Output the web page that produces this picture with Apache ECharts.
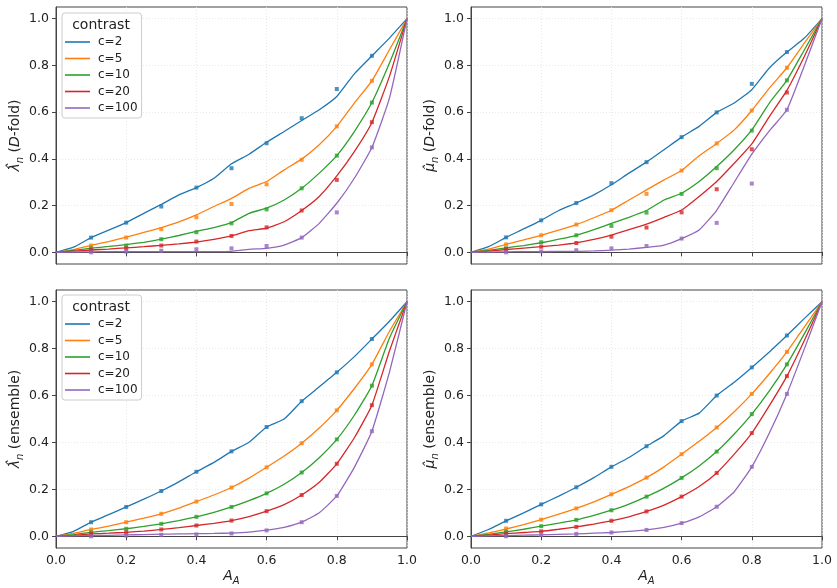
<!DOCTYPE html>
<html>
<head>
<meta charset="utf-8">
<script src="https://cdn.jsdelivr.net/npm/echarts@6/dist/echarts.min.js"></script>
<style>
  html, body { margin: 0; padding: 0; background: #fff; }
  #chart { width: 837px; height: 588px; }
</style>
</head>
<body>
<div id="chart"></div>
<script>
// x positions of the curves (dense) and of the square markers
const xLine = [0, 0.05, 0.1, 0.15, 0.2, 0.25, 0.3, 0.35, 0.4, 0.45, 0.5, 0.55, 0.6, 0.65, 0.7, 0.75, 0.8, 0.85, 0.9, 0.95, 1]
const xPts = [0.1, 0.2, 0.3, 0.4, 0.5, 0.6, 0.7, 0.8, 0.9]
const yTicks = [0, 0.2, 0.4, 0.6, 0.8, 1.0]
const names = ['c=2', 'c=5', 'c=10', 'c=20', 'c=100']
const colors = ['#1f77b4', '#ff7f0e', '#2ca02c', '#d62728', '#9467bd']

// lambda hat, D-fold
const lamDfoldLine = [
  [0, 0.022, 0.063, 0.095, 0.127, 0.167, 0.205, 0.246, 0.277, 0.317, 0.379, 0.42, 0.471, 0.517, 0.564, 0.61, 0.667, 0.764, 0.841, 0.917, 1],
  [0, 0.012, 0.03, 0.046, 0.065, 0.085, 0.106, 0.13, 0.16, 0.196, 0.231, 0.274, 0.303, 0.353, 0.399, 0.46, 0.539, 0.639, 0.734, 0.867, 1],
  [0, 0.008, 0.018, 0.025, 0.033, 0.043, 0.056, 0.072, 0.09, 0.106, 0.127, 0.167, 0.189, 0.224, 0.274, 0.339, 0.414, 0.517, 0.641, 0.81, 1],
  [0, 0.005, 0.01, 0.014, 0.019, 0.024, 0.03, 0.036, 0.044, 0.055, 0.07, 0.093, 0.103, 0.131, 0.179, 0.239, 0.327, 0.431, 0.556, 0.753, 1],
  [0, 0.001, 0.002, 0.003, 0.003, 0.003, 0.003, 0.003, 0.003, 0.003, 0.004, 0.013, 0.017, 0.031, 0.063, 0.124, 0.21, 0.317, 0.449, 0.66, 1]
]
const lamDfoldPts = [
  [0.063, 0.127, 0.196, 0.277, 0.36, 0.467, 0.574, 0.699, 0.841],
  [0.029, 0.063, 0.099, 0.15, 0.207, 0.291, 0.396, 0.539, 0.734],
  [0.017, 0.029, 0.056, 0.086, 0.124, 0.184, 0.274, 0.414, 0.641],
  [0.01, 0.017, 0.029, 0.046, 0.07, 0.107, 0.179, 0.31, 0.557],
  [0.0, 0.003, 0.007, 0.013, 0.017, 0.027, 0.063, 0.171, 0.449]
]

// mu hat, D-fold
const muDfoldLine = [
  [0, 0.024, 0.064, 0.1, 0.137, 0.179, 0.211, 0.246, 0.289, 0.339, 0.386, 0.439, 0.493, 0.539, 0.599, 0.639, 0.696, 0.789, 0.857, 0.917, 1],
  [0, 0.014, 0.034, 0.053, 0.073, 0.095, 0.119, 0.148, 0.18, 0.224, 0.267, 0.31, 0.35, 0.413, 0.466, 0.524, 0.607, 0.703, 0.79, 0.896, 1],
  [0, 0.008, 0.019, 0.029, 0.041, 0.056, 0.073, 0.097, 0.124, 0.15, 0.179, 0.224, 0.253, 0.303, 0.367, 0.439, 0.524, 0.639, 0.736, 0.867, 1],
  [0, 0.005, 0.012, 0.018, 0.024, 0.031, 0.04, 0.055, 0.074, 0.097, 0.121, 0.15, 0.181, 0.239, 0.303, 0.381, 0.464, 0.581, 0.693, 0.839, 1],
  [0, 0.001, 0.002, 0.003, 0.003, 0.004, 0.004, 0.006, 0.009, 0.014, 0.021, 0.031, 0.059, 0.096, 0.18, 0.3, 0.42, 0.52, 0.61, 0.8, 1]
]
const muDfoldPts = [
  [0.064, 0.137, 0.211, 0.296, 0.386, 0.493, 0.599, 0.721, 0.857],
  [0.034, 0.073, 0.119, 0.18, 0.25, 0.35, 0.466, 0.607, 0.79],
  [0.017, 0.043, 0.073, 0.113, 0.17, 0.25, 0.36, 0.521, 0.736],
  [0.013, 0.024, 0.04, 0.067, 0.106, 0.171, 0.27, 0.441, 0.684],
  [0.0, 0.004, 0.009, 0.017, 0.027, 0.059, 0.126, 0.294, 0.61]
]

// lambda hat, ensemble
const lamEnsLine = [
  [0, 0.021, 0.06, 0.092, 0.125, 0.158, 0.193, 0.232, 0.275, 0.315, 0.362, 0.401, 0.466, 0.5, 0.576, 0.637, 0.699, 0.766, 0.841, 0.917, 1],
  [0, 0.012, 0.029, 0.043, 0.06, 0.077, 0.096, 0.12, 0.148, 0.176, 0.208, 0.248, 0.294, 0.342, 0.397, 0.462, 0.537, 0.63, 0.733, 0.874, 1],
  [0, 0.007, 0.017, 0.024, 0.032, 0.042, 0.053, 0.067, 0.083, 0.102, 0.125, 0.152, 0.183, 0.222, 0.272, 0.335, 0.413, 0.516, 0.642, 0.845, 1],
  [0, 0.004, 0.01, 0.013, 0.017, 0.022, 0.029, 0.037, 0.046, 0.055, 0.067, 0.084, 0.107, 0.135, 0.176, 0.23, 0.309, 0.42, 0.559, 0.79, 1],
  [0, 0.002, 0.003, 0.004, 0.006, 0.007, 0.009, 0.01, 0.011, 0.012, 0.014, 0.018, 0.026, 0.038, 0.06, 0.1, 0.172, 0.294, 0.448, 0.7, 1]
]
const lamEnsPts = [
  [0.06, 0.125, 0.193, 0.275, 0.362, 0.466, 0.576, 0.699, 0.841],
  [0.029, 0.06, 0.096, 0.148, 0.208, 0.294, 0.397, 0.537, 0.733],
  [0.017, 0.032, 0.053, 0.083, 0.125, 0.183, 0.272, 0.413, 0.642],
  [0.01, 0.017, 0.029, 0.046, 0.067, 0.107, 0.176, 0.309, 0.559],
  [0.0, 0.003, 0.006, 0.008, 0.012, 0.025, 0.06, 0.172, 0.448]
]

// mu hat, ensemble
const muEnsLine = [
  [0, 0.029, 0.066, 0.1, 0.136, 0.171, 0.209, 0.25, 0.296, 0.336, 0.384, 0.429, 0.491, 0.525, 0.6, 0.657, 0.72, 0.786, 0.856, 0.929, 1],
  [0, 0.014, 0.031, 0.05, 0.071, 0.094, 0.119, 0.147, 0.179, 0.212, 0.25, 0.296, 0.35, 0.405, 0.464, 0.531, 0.607, 0.693, 0.786, 0.893, 1],
  [0, 0.008, 0.019, 0.03, 0.043, 0.056, 0.07, 0.089, 0.111, 0.137, 0.169, 0.205, 0.249, 0.3, 0.361, 0.436, 0.521, 0.62, 0.733, 0.864, 1],
  [0, 0.005, 0.011, 0.016, 0.021, 0.03, 0.04, 0.052, 0.066, 0.083, 0.106, 0.133, 0.169, 0.212, 0.27, 0.35, 0.44, 0.557, 0.683, 0.836, 1],
  [0, 0.002, 0.003, 0.005, 0.006, 0.008, 0.01, 0.013, 0.016, 0.021, 0.027, 0.038, 0.056, 0.083, 0.126, 0.19, 0.296, 0.44, 0.607, 0.8, 1]
]
const muEnsPts = [
  [0.066, 0.136, 0.209, 0.296, 0.384, 0.491, 0.6, 0.72, 0.856],
  [0.033, 0.071, 0.119, 0.179, 0.25, 0.35, 0.464, 0.607, 0.786],
  [0.019, 0.043, 0.07, 0.111, 0.169, 0.249, 0.361, 0.521, 0.733],
  [0.011, 0.021, 0.04, 0.066, 0.106, 0.169, 0.27, 0.44, 0.683],
  [0.0, 0.006, 0.01, 0.016, 0.027, 0.056, 0.126, 0.296, 0.607]
]

const panels = [
  { line: lamDfoldLine, pts: lamDfoldPts, sym: 'λ̂', kind: 'dfold', left: 56, top: 7, height: 257, bottom: false },
  { line: muDfoldLine, pts: muDfoldPts, sym: 'μ̂', kind: 'dfold', left: 471, top: 7, height: 257, bottom: false },
  { line: lamEnsLine, pts: lamEnsPts, sym: 'λ̂', kind: 'ens', left: 56, top: 290, height: 258, bottom: true },
  { line: muEnsLine, pts: muEnsPts, sym: 'μ̂', kind: 'ens', left: 471, top: 290, height: 258, bottom: true }
]

const font = 'DejaVu Sans'
const textColor = '#222'
const spine = '#444'

const nameRich = {
  g: { fontFamily: font, fontSize: 14, fontStyle: 'italic', color: textColor, lineHeight: 19 },
  sub: { fontFamily: font, fontSize: 10, fontStyle: 'italic', color: textColor, lineHeight: 10, verticalAlign: 'bottom' },
  t: { fontFamily: font, fontSize: 14, color: textColor, lineHeight: 19 },
  i: { fontFamily: font, fontSize: 14, fontStyle: 'italic', color: textColor, lineHeight: 19 }
}

const grids = []
const xAxes = []
const yAxes = []
const series = []

panels.forEach((p, k) => {
  grids.push({
    left: p.left, top: p.top, width: 351, height: p.height,
    show: true, borderColor: spine, borderWidth: 1, backgroundColor: '#fff'
  })
  xAxes.push({
    gridIndex: k, type: 'value', min: 0, max: 1, interval: 0.2,
    name: p.bottom ? '{g|A}{sub|A}' : '',
    nameLocation: 'middle', nameGap: 19,
    nameTextStyle: { rich: nameRich },
    axisLine: { show: true, lineStyle: { color: spine } },
    axisTick: { show: true, length: 4, lineStyle: { color: spine } },
    axisLabel: {
      show: p.bottom, margin: 6, fontFamily: font, fontSize: 12.5, color: textColor,
      formatter: v => v.toFixed(1)
    },
    splitLine: { show: true, lineStyle: { color: '#e3e3e3', type: [1, 2], width: 0.8 } }
  })
  const yName = p.kind === 'dfold'
    ? '{g|' + p.sym + '}{sub|n}{t| (}{i|D}{t|-fold)}'
    : '{g|' + p.sym + '}{sub|n}{t| (ensemble)}'
  yAxes.push({
    gridIndex: k, type: 'value', min: -0.05, max: 1.05, splitNumber: 5,
    name: yName, nameLocation: 'middle', nameGap: 27,
    nameTextStyle: { rich: nameRich },
    axisLine: { show: true, lineStyle: { color: spine } },
    axisTick: { show: true, length: 4, customValues: yTicks, lineStyle: { color: spine } },
    axisLabel: {
      margin: 7, fontFamily: font, fontSize: 12.5, color: textColor,
      customValues: yTicks, formatter: v => v.toFixed(1)
    },
    splitLine: { show: true, lineStyle: { color: '#e3e3e3', type: [1, 2], width: 0.8 } }
  })
  for (let c = 0; c < names.length; c++) {
    series.push({
      type: 'line', name: names[c], xAxisIndex: k, yAxisIndex: k,
      data: xLine.map((x, i) => [x, p.line[c][i]]),
      showSymbol: false, smooth: 0.15,
      color: colors[c],
      lineStyle: { width: 1.3, color: colors[c] },
      z: 3
    })
    series.push({
      type: 'scatter', xAxisIndex: k, yAxisIndex: k,
      data: xPts.map((x, i) => [x, p.pts[c][i]]),
      symbol: 'rect', symbolSize: 4,
      itemStyle: { color: colors[c] },
      z: 4
    })
  }
})

const legendBase = {
  orient: 'vertical', left: 62,
  padding: [22, 4, 3, 3],
  itemGap: 2.5, itemWidth: 25, itemHeight: 1.6,
  icon: 'rect',
  borderColor: '#cccccc', borderWidth: 1, borderRadius: 3,
  backgroundColor: 'rgba(255,255,255,0.85)',
  textStyle: { fontFamily: font, fontSize: 12, color: textColor, lineHeight: 14, padding: [0, 0, 0, 3] },
  data: names,
  selectedMode: false
}

const option = {
  animation: false,
  backgroundColor: '#fff',
  grid: grids,
  xAxis: xAxes,
  yAxis: yAxes,
  legend: [
    Object.assign({}, legendBase, { top: 13 }),
    Object.assign({}, legendBase, { top: 295 })
  ],
  graphic: [
    { type: 'text', z: 100, style: { x: 101, y: 25, text: 'contrast', fontFamily: font, fontSize: 14, fill: textColor, align: 'center', verticalAlign: 'middle' } },
    { type: 'text', z: 100, style: { x: 101, y: 307, text: 'contrast', fontFamily: font, fontSize: 14, fill: textColor, align: 'center', verticalAlign: 'middle' } }
  ],
  series: series
}

const chart = echarts.init(document.getElementById('chart'), null, { renderer: 'canvas' })
chart.setOption(option)
</script>
</body>
</html>
